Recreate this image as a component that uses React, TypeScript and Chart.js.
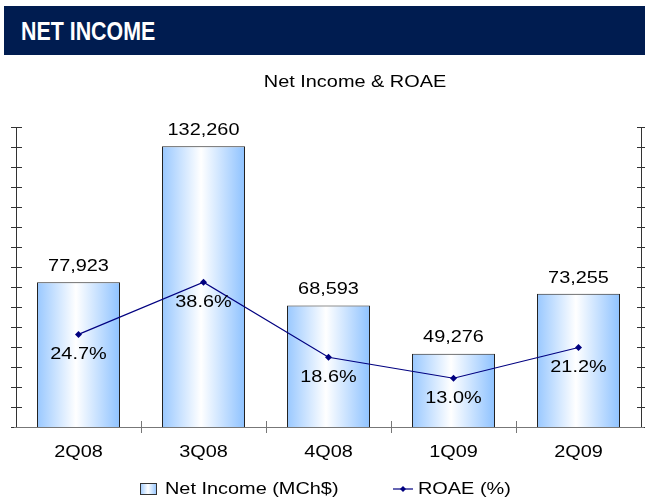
import React, { useEffect, useRef } from "react";
import { Chart, registerables } from "chart.js";

Chart.register(...registerables);

const categories = ["2Q08", "3Q08", "4Q08", "1Q09", "2Q09"];
const netIncome = [77923, 132260, 68593, 49276, 73255];
const roae = [24.7, 38.6, 18.6, 13.0, 21.2];
const leftMin = 20000;
const leftMax = 140000;
const rightMin = 0;
const rightMax = 80;
const tickIntervals = 15;

const FONT = "'Liberation Sans', Arial, sans-serif";
const BAR_PCT = 0.664;
const STRETCH = 1.17;

function barGradient(ctx: CanvasRenderingContext2D, x0: number, x1: number) {
  const g = ctx.createLinearGradient(x0, 0, x1, 0);
  g.addColorStop(0, "#99C8FF");
  g.addColorStop(0.47, "#FFFFFF");
  g.addColorStop(1, "#8EC2FF");
  return g;
}

function stretchedText(ctx: CanvasRenderingContext2D, text: string, x: number, y: number, align: CanvasTextAlign) {
  ctx.save();
  ctx.translate(x, y);
  ctx.scale(STRETCH, 1);
  ctx.textAlign = align;
  ctx.fillText(text, 0, 0);
  ctx.restore();
}

const customPlugin = {
  id: "custom",
  afterDatasetsDraw(chart: any) {
    const ctx: CanvasRenderingContext2D = chart.ctx;
    const xs = chart.scales.x;
    const ys = chart.scales.y;
    const y1s = chart.scales.y1;
    const area = chart.chartArea;
    ctx.save();

    // data labels
    ctx.fillStyle = "#000";
    ctx.textBaseline = "middle";
    ctx.font = `17px ${FONT}`;
    const barMeta = chart.getDatasetMeta(0);
    barMeta.data.forEach((el: any, i: number) => {
      stretchedText(ctx, netIncome[i].toLocaleString("en-US"), el.x, el.y - 16, "center");
    });
    const lineMeta = chart.getDatasetMeta(1);
    lineMeta.data.forEach((el: any, i: number) => {
      stretchedText(ctx, roae[i].toFixed(1) + "%", el.x, el.y + 20, "center");
    });

    // axes
    ctx.lineWidth = 1;
    ctx.strokeStyle = "#333";
    ctx.beginPath();
    ctx.moveTo(area.left + 0.5, area.top);
    ctx.lineTo(area.left + 0.5, area.bottom);
    ctx.moveTo(area.right + 0.5, area.top);
    ctx.lineTo(area.right + 0.5, area.bottom);
    for (let i = 0; i <= tickIntervals; i++) {
      const yl = Math.round(ys.getPixelForValue(leftMin + (i * (leftMax - leftMin)) / tickIntervals)) + 0.5;
      ctx.moveTo(area.left - 5, yl);
      ctx.lineTo(area.left + 6, yl);
      const yr = Math.round(y1s.getPixelForValue(rightMin + (i * (rightMax - rightMin)) / tickIntervals)) + 0.5;
      ctx.moveTo(area.right - 4, yr);
      ctx.lineTo(area.right + 5, yr);
    }
    ctx.stroke();

    ctx.strokeStyle = "#777";
    ctx.beginPath();
    const yb = Math.round(area.bottom) + 0.5;
    ctx.moveTo(area.left - 2, yb);
    ctx.lineTo(area.right + 3, yb);
    const n = categories.length;
    const step = (area.right - area.left) / n;
    for (let i = 1; i < n; i++) {
      const xx = Math.round(area.left + i * step) + 0.5;
      ctx.moveTo(xx, area.bottom - 6);
      ctx.lineTo(xx, area.bottom + 6);
    }
    ctx.stroke();

    // category labels
    ctx.fillStyle = "#000";
    categories.forEach((c, i) => {
      stretchedText(ctx, c, xs.getPixelForValue(i), 452, "center");
    });

    // title
    stretchedText(ctx, "Net Income & ROAE", 355, 82, "center");

    // legend
    ctx.fillStyle = barGradient(ctx, 140, 157);
    ctx.fillRect(140, 483, 17, 12);
    ctx.strokeStyle = "#333";
    ctx.strokeRect(140.5, 483.5, 16, 11);
    ctx.fillStyle = "#000";
    stretchedText(ctx, "Net Income (MCh$)", 165, 489, "left");
    ctx.strokeStyle = "#000080";
    ctx.lineWidth = 1.2;
    ctx.beginPath();
    ctx.moveTo(393, 489);
    ctx.lineTo(413, 489);
    ctx.stroke();
    ctx.fillStyle = "#000080";
    ctx.beginPath();
    ctx.moveTo(403, 486);
    ctx.lineTo(406, 489);
    ctx.lineTo(403, 492);
    ctx.lineTo(400, 489);
    ctx.closePath();
    ctx.fill();
    ctx.fillStyle = "#000";
    stretchedText(ctx, "ROAE (%)", 418, 489, "left");

    ctx.restore();
  },
};

export default function App() {
  const ref = useRef<HTMLCanvasElement>(null);
  useEffect(() => {
    if (!ref.current) return;
    const chart = new Chart(ref.current, {
      type: "bar",
      data: {
        labels: categories,
        datasets: [
          {
            type: "bar",
            label: "Net Income (MCh$)",
            data: netIncome,
            yAxisID: "y",
            order: 1,
            categoryPercentage: 1,
            barPercentage: BAR_PCT,
            borderColor: "#222",
            borderWidth: 1,
            backgroundColor: (c: any) => {
              const chart = c.chart;
              const xs = chart.scales?.x;
              if (!chart.chartArea || !xs) return "#BBDDFF";
              const cx = xs.getPixelForValue(c.dataIndex);
              const w = ((chart.chartArea.right - chart.chartArea.left) / categories.length) * BAR_PCT;
              return barGradient(chart.ctx, cx - w / 2, cx + w / 2);
            },
          },
          {
            type: "line",
            label: "ROAE (%)",
            data: roae,
            yAxisID: "y1",
            order: 0,
            borderColor: "#000080",
            borderWidth: 1.2,
            backgroundColor: "#000080",
            pointStyle: "rectRot",
            pointRadius: 3.5,
            pointBorderWidth: 0,
            tension: 0,
          },
        ] as any,
      },
      options: {
        animation: false,
        responsive: false,
        maintainAspectRatio: false,
        layout: { padding: { left: 16, right: 4, top: 127, bottom: 71 } },
        plugins: { legend: { display: false }, tooltip: { enabled: false }, title: { display: false } },
        scales: {
          x: { display: false, offset: true },
          y: { display: false, min: leftMin, max: leftMax },
          y1: { display: false, min: rightMin, max: rightMax, position: "right" },
        },
      },
      plugins: [customPlugin],
    });
    return () => chart.destroy();
  }, []);

  return (
    <div style={{ position: "fixed", left: 0, top: 0, width: 645, height: 498, background: "#fff", overflow: "hidden" }}>
      <div
        style={{
          position: "absolute",
          left: 4,
          top: 6,
          width: 641,
          height: 49,
          background: "#001C50",
        }}
      >
        <span
          style={{
            position: "absolute",
            left: 17,
            top: 11,
            color: "#fff",
            fontFamily: FONT,
            fontWeight: "bold",
            fontSize: 25,
            lineHeight: "28px",
            whiteSpace: "nowrap",
            transform: "scaleX(0.855)",
            transformOrigin: "left center",
          }}
        >
          NET INCOME
        </span>
      </div>
      <canvas ref={ref} width={645} height={498} style={{ position: "absolute", left: 0, top: 0 }} />
    </div>
  );
}
